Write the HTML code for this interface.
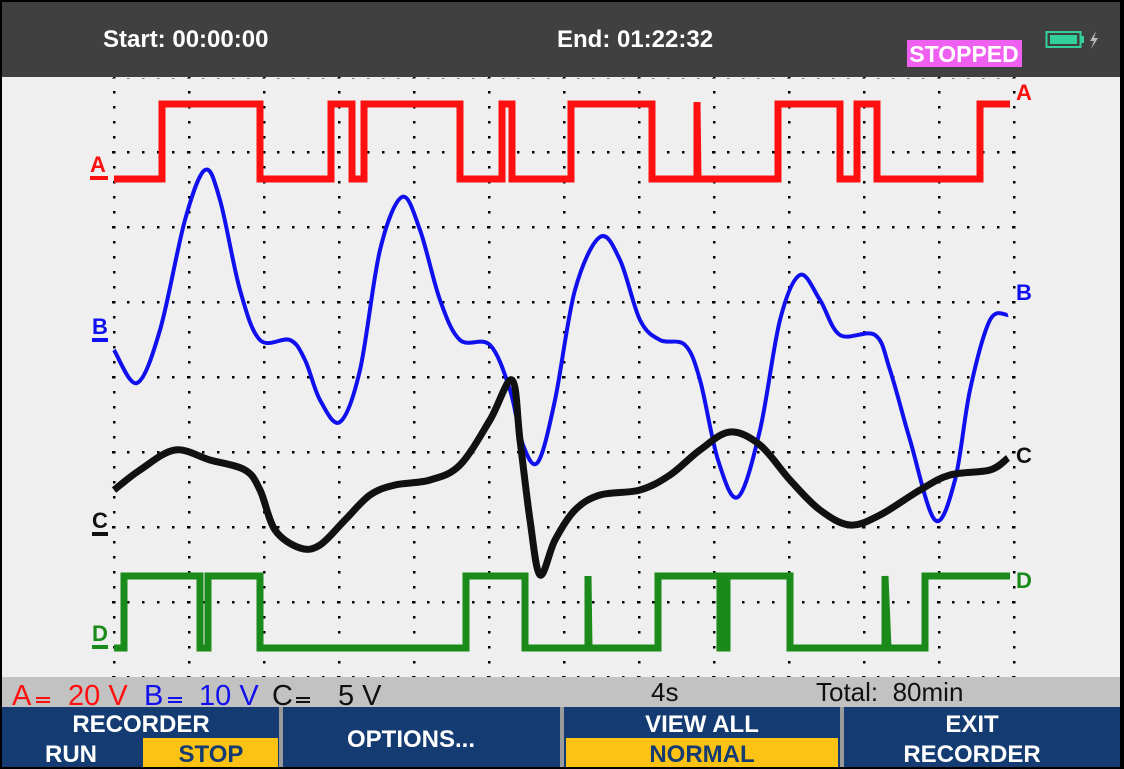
<!DOCTYPE html>
<html><head><meta charset="utf-8"><style>
html,body{margin:0;padding:0;background:#000;}
svg{display:block;font-family:"Liberation Sans",sans-serif;}
</style></head><body>
<svg id="s" width="1124" height="769" viewBox="0 0 1124 769" xmlns="http://www.w3.org/2000/svg">
<defs>
<pattern id="vd" x="113" y="76" width="75" height="15" patternUnits="userSpaceOnUse"><rect x="0" y="0" width="2.5" height="2.5" fill="#000"/></pattern>
<pattern id="hd" x="112" y="151" width="15" height="75" patternUnits="userSpaceOnUse"><rect x="0" y="0" width="2.5" height="2.5" fill="#000"/></pattern>
</defs>
<rect x="0" y="0" width="1124" height="769" fill="#000"/>
<rect x="2" y="2" width="1118" height="75" fill="#404040"/>
<rect x="2" y="77" width="1118" height="600" fill="#efefef"/>
<rect x="113" y="77" width="903" height="600" fill="url(#vd)"/>
<rect x="112" y="78" width="903" height="600" fill="url(#hd)"/>
<text x="103" y="47" fill="#fff" font-size="24" font-weight="bold">Start: 00:00:00</text>
<text x="557" y="47" fill="#fff" font-size="24" font-weight="bold">End: 01:22:32</text>
<rect x="907" y="40" width="115" height="27" fill="#f060f0"/>
<text x="964" y="62" fill="#fff" font-size="23" font-weight="bold" text-anchor="middle">STOPPED</text>
<rect x="1046.5" y="32" width="34" height="15" fill="none" stroke="#33d09a" stroke-width="2"/>
<rect x="1050" y="35" width="27" height="9" fill="#33d09a"/>
<rect x="1081" y="36" width="3" height="7" fill="#33d09a"/>
<path d="M1096 31 L1090 41 L1094 41 L1091 49 L1098 38 L1094 38 Z" fill="#bbb"/>
<polyline fill="none" stroke="#ff1010" stroke-width="7" points="114,179 162,179 162,104 260,104 260,179 331,179 331,104 352,104 352,179 364,179 364,104 460,104 460,179 502,179 502,104 512,104 512,179 571,179 571,104 652,104 652,179 697,179 697,102 698,179 778,179 778,104 840,104 840,179 857,179 857,104 877,104 877,179 980,179 980,104 1010,104"/>
<polyline fill="none" stroke="#1a8a1a" stroke-width="7" points="114,648 124,648 124,576 200,576 200,648 208,648 208,576 260,576 260,648 466,648 466,576 525,576 525,648 588,648 588,576 589,648 658,648 658,576 720,576 720,648 727,648 727,576 790,576 790,648 885,648 885,576 888,648 925,648 925,576 1010,576"/>
<path id="pb" fill="none" stroke="#1010ee" stroke-width="4"/>
<path id="pc" fill="none" stroke="#111" stroke-width="7"/>
<g font-size="22" font-weight="bold">
<text x="90" y="172" fill="#ff1010">A</text><rect x="90" y="176" width="18" height="4" fill="#ff1010"/>
<text x="1016" y="100" fill="#ff1010">A</text>
<text x="92" y="334" fill="#1010ee">B</text><rect x="92" y="338" width="16" height="4" fill="#1010ee"/>
<text x="1016" y="300" fill="#1010ee">B</text>
<text x="92" y="528" fill="#111">C</text><rect x="92" y="532" width="16" height="4" fill="#111"/>
<text x="1016" y="463" fill="#111">C</text>
<text x="92" y="641" fill="#1a8a1a">D</text><rect x="92" y="645" width="16" height="4" fill="#1a8a1a"/>
<text x="1016" y="588" fill="#1a8a1a">D</text>
</g>
<rect x="2" y="677" width="1118" height="30" fill="#c2c2c2"/>
<g font-size="29">
<text x="12" y="705" fill="#ff1010">A</text><rect x="36" y="697" width="14" height="2" fill="#ff1010"/><rect x="36" y="701" width="14" height="2" fill="#ff1010"/>
<text x="68" y="705" fill="#ff1010">20 V</text>
<text x="144" y="705" fill="#1010ee">B</text><rect x="168" y="697" width="14" height="2" fill="#1010ee"/><rect x="168" y="701" width="14" height="2" fill="#1010ee"/>
<text x="199" y="705" fill="#1010ee">10 V</text>
<text x="272" y="705" fill="#111">C</text><rect x="296" y="697" width="14" height="2" fill="#111"/><rect x="296" y="701" width="14" height="2" fill="#111"/>
<text x="338" y="705" fill="#111">5 V</text>
<text x="651" y="701" fill="#111" font-size="26">4s</text>
<text x="816" y="701" fill="#111" font-size="26" xml:space="preserve">Total:  80min</text>
</g>
<rect x="2" y="707" width="1118" height="60" fill="#143c72"/>
<rect x="279" y="707" width="4" height="60" fill="#9a9a9a"/>
<rect x="560" y="707" width="4" height="60" fill="#9a9a9a"/>
<rect x="840" y="707" width="4" height="60" fill="#9a9a9a"/>
<rect x="143" y="738" width="135" height="29" fill="#fcc314"/>
<rect x="566" y="738" width="272" height="29" fill="#fcc314"/>
<g font-size="24" font-weight="bold" text-anchor="middle">
<text x="141" y="732" fill="#fff">RECORDER</text>
<text x="71" y="762" fill="#fff">RUN</text>
<text x="211" y="762" fill="#143c72">STOP</text>
<text x="411" y="747" fill="#fff">OPTIONS...</text>
<text x="702" y="732" fill="#fff">VIEW ALL</text>
<text x="702" y="762" fill="#143c72">NORMAL</text>
<text x="972" y="732" fill="#fff">EXIT</text>
<text x="972" y="762" fill="#fff">RECORDER</text>
</g>
</svg>
<script>
function cr(p){var d="M"+p[0][0]+","+p[0][1];for(var i=0;i<p.length-1;i++){var a=p[i-1]||p[i],b=p[i],c=p[i+1],e=p[i+2]||c;d+=" C"+(b[0]+(c[0]-a[0])/6)+","+(b[1]+(c[1]-a[1])/6)+" "+(c[0]-(e[0]-b[0])/6)+","+(c[1]-(e[1]-b[1])/6)+" "+c[0]+","+c[1];}return d;}
var B=[[114,350],[137,383],[160,330],[185,220],[205,170],[220,200],[240,290],[260,340],[290,340],[305,360],[320,400],[340,422],[360,370],[380,250],[402,197],[420,230],[440,300],[460,340],[490,345],[510,390],[523,445],[538,462],[555,400],[575,290],[600,237],[620,260],[640,320],[660,340],[685,345],[700,380],[718,460],[738,497],[760,430],[780,320],[800,275],[820,300],[840,335],[875,335],[890,370],[910,440],[935,520],[955,480],[970,390],[990,320],[1008,315]];
var C=[[114,490],[140,470],[175,450],[210,460],[245,470],[260,490],[275,530],[300,548],[320,545],[345,520],[370,495],[395,485],[430,480],[460,465],[490,420],[512,380],[520,440],[530,520],[540,575],[555,540],[575,510],[600,495],[640,490],[670,475],[700,450],[730,432],[760,445],[790,480],[820,510],[850,525],[880,515],[920,490],[950,475],[990,470],[1008,458]];
document.getElementById("pb").setAttribute("d",cr(B));
document.getElementById("pc").setAttribute("d",cr(C));
</script>
</body></html>
